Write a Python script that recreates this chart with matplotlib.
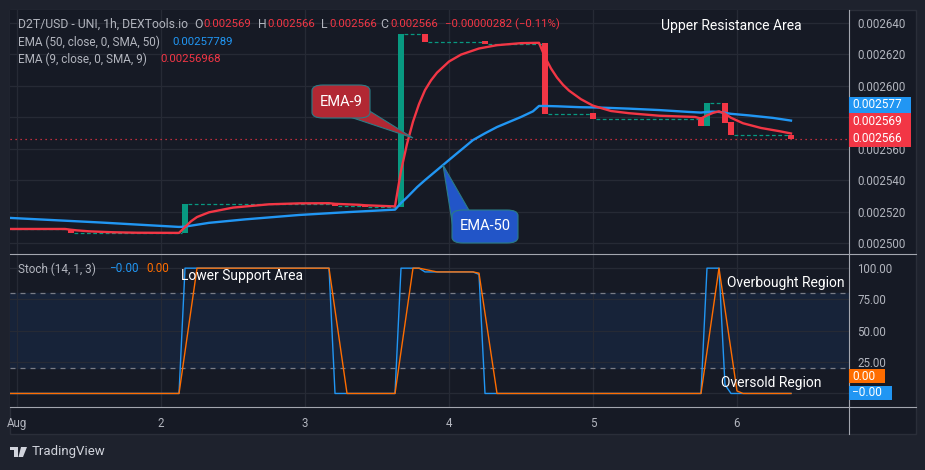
import matplotlib
matplotlib.use("Agg")
import matplotlib.pyplot as plt
from matplotlib.patches import Rectangle, FancyBboxPatch, Polygon
from matplotlib.lines import Line2D

W, H = 925, 470

OUTER = "#1e222d"
PANE = "#161a25"
FRAME = "#2a2e39"
GRID = "#262a35"
SEP = "#a3a6af"
TXT = "#b2b5be"
RED = "#f23645"
GREEN = "#089981"
BLUE = "#2196f3"
ORANGE = "#ff6d00"
BAND = "#172339"

# hours since Aug 1 00:00 -- only the candles that actually moved
candle_hours = [9, 28, 53, 58, 64, 68, 78, 88, 96, 114, 115, 118, 119, 129]
candle_open = [0.0025089, 0.0025064, 0.0025251, 0.0025242, 0.0025227, 0.0026330, 0.0026284,
               0.0026271, 0.0025827, 0.0025802, 0.0025744, 0.0025891, 0.0025770, 0.0025690]
candle_close = [0.0025064, 0.0025251, 0.0025236, 0.0025227, 0.0026330, 0.0026281, 0.0026266,
                0.0025821, 0.0025789, 0.0025744, 0.0025891, 0.0025764, 0.0025687, 0.0025660]
first_price = 0.0025089
last_price = 0.002566

ema9_hours = [-1.5, 8, 9, 10, 12, 16, 20, 27, 28, 29, 30, 32, 36, 42, 47, 52, 53, 57, 58, 62, 63,
              64, 65, 66, 67, 68, 69, 70, 72, 74, 77, 80, 84, 87, 88, 89, 90, 91, 92, 94, 96,
              99, 102, 107, 113, 114, 115, 116, 117, 118, 119, 121, 124, 127, 129]
ema9_vals = [0.0025089, 0.0025089, 0.0025084, 0.0025080, 0.0025074, 0.0025068, 0.0025065,
             0.0025064, 0.0025101, 0.0025138, 0.0025165, 0.0025195, 0.0025225, 0.0025246,
             0.0025252, 0.0025253, 0.0025249, 0.0025243, 0.0025240, 0.0025234, 0.0025233,
             0.0025460, 0.0025630, 0.0025772, 0.0025884, 0.0025973, 0.0026035, 0.0026084,
             0.0026155, 0.0026199, 0.0026238, 0.0026259, 0.0026272, 0.0026274, 0.0026183,
             0.0026111, 0.0026053, 0.0026007, 0.0025970, 0.0025915, 0.0025874, 0.0025840,
             0.0025826, 0.0025810, 0.0025802, 0.0025792, 0.0025812, 0.0025828, 0.0025838,
             0.0025823, 0.0025797, 0.0025762, 0.0025732, 0.0025712, 0.0025697]

ema50_hours = [-1.5, 14, 27, 28, 32, 38, 47, 55, 63, 64, 65, 66.7, 68, 71, 73, 76, 78, 80, 82,
               84, 86, 87, 88, 90, 94, 97, 102, 107, 112, 114, 115, 116, 117, 118, 119, 122,
               126, 129]
ema50_vals = [0.0025160, 0.0025130, 0.0025102, 0.0025104, 0.0025128, 0.0025150, 0.0025178,
              0.0025196, 0.0025212, 0.0025254, 0.0025290, 0.0025356, 0.0025400, 0.0025496,
              0.0025560, 0.0025655, 0.0025698, 0.0025738, 0.0025770, 0.0025802, 0.0025838,
              0.0025872, 0.0025872, 0.0025870, 0.0025864, 0.0025862, 0.0025855, 0.0025846,
              0.0025834, 0.0025830, 0.0025834, 0.0025836, 0.0025834, 0.0025828, 0.0025822,
              0.0025812, 0.0025796, 0.0025779]

stoch_k_hours = [-1.5, 27, 28, 52, 53, 63, 64, 67, 68, 76, 77, 78, 114, 115, 117, 118, 119, 129]
stoch_k = [0, 0, 100, 100, 0, 0, 100, 100, 97, 97, 95, 0, 0, 100, 100, 7, 0, 0]
stoch_d_hours = [-1.5, 27, 30, 52, 55, 63, 66, 67, 70, 76, 77, 80, 114, 117, 120, 121, 129]
stoch_d = [0, 0, 100, 100, 0, 0, 100, 100, 97, 97, 96, 0, 0, 100, 2, 0, 0]

price_ticks = [0.00250, 0.00252, 0.00254, 0.00256, 0.00258, 0.00260, 0.00262, 0.00264]
price_tick_labels = ["0.002500", "0.002520", "0.002540", "0.002560", "", "0.002600", "0.002620", "0.002640"]
stoch_ticks = [0, 25, 50, 75, 100]
stoch_tick_labels = ["", "25.00", "50.00", "75.00", "100.00"]
day_ticks = [0, 24, 48, 72, 96, 120]
day_labels = ["Aug", "2", "3", "4", "5", "6"]


def fx(x):
    return x / W


def fy(y):
    return 1 - y / H


def ftext(x, y, s, **kw):
    kw.setdefault("va", "center")
    kw.setdefault("fontsize", 8.5)
    kw.setdefault("color", TXT)
    fig.text(fx(x), fy(y), s, **kw)


def label_box(x0, y0, x1, y1, s, color):
    fig.patches.append(Rectangle((fx(x0), fy(y1)), (x1 - x0) / W, (y1 - y0) / H,
                                 transform=fig.transFigure, facecolor=color, edgecolor="none", zorder=5))
    ftext(x0 + 3, (y0 + y1) / 2, s, color="white", fontsize=8.6, zorder=6)


def callout(box, tail, s, color):
    x0, y0, x1, y1 = box
    fig.patches.append(Polygon([(fx(a), fy(b)) for a, b in tail], closed=True,
                               transform=fig.transFigure, facecolor=color,
                               edgecolor="#2b7c86", lw=0.8, zorder=5))
    fig.patches.append(FancyBboxPatch((fx(x0), fy(y1)), (x1 - x0) / W, (y1 - y0) / H,
                                      boxstyle="round,pad=0,rounding_size=0.012",
                                      transform=fig.transFigure, facecolor=color,
                                      edgecolor="#2b7c86", lw=0.8, zorder=6))
    ftext((x0 + x1) / 2, (y0 + y1) / 2, s, color="white", fontsize=10.5, ha="center", zorder=7)


plt.rcParams["font.family"] = ["Roboto", "DejaVu Sans"]

fig = plt.figure(figsize=(W / 100, H / 100), dpi=100, facecolor=OUTER)
fig.patches.append(Rectangle((fx(10), fy(434)), 906 / W, 424 / H, transform=fig.transFigure,
                             facecolor=PANE, edgecolor=FRAME, lw=1, zorder=-5))

ax = fig.add_axes([fx(10), fy(253), 839 / W, 243 / H])
ax2 = fig.add_axes([fx(10), fy(407), 839 / W, 154 / H], sharex=ax)

for a in (ax, ax2):
    a.set_facecolor(PANE)
    for sp in a.spines.values():
        sp.set_visible(False)
    a.yaxis.tick_right()
    a.tick_params(length=0, labelcolor=TXT, labelsize=8.3, pad=6)
    a.grid(color=GRID, lw=0.9)
    a.set_axisbelow(True)

# price pane
colors = [GREEN if c >= o else RED for o, c in zip(candle_open, candle_close)]
ax.bar(candle_hours, [c - o for o, c in zip(candle_open, candle_close)], bottom=candle_open,
       width=0.9, color=colors, zorder=3)

prev_price, prev_end = first_price, -2
for h, c in zip(candle_hours, candle_close):
    if h - 0.45 > prev_end + 0.05:
        ax.hlines(prev_price, prev_end, h - 0.45, colors=GREEN, linestyles=(0, (3, 2)), lw=0.9, zorder=3)
    prev_price, prev_end = c, h + 0.45

ax.axhline(last_price, color=RED, lw=0.9, ls=(0, (1, 3)), zorder=2)
ax.plot(ema50_hours, ema50_vals, color=BLUE, lw=1.7, zorder=4)
ax.plot(ema9_hours, ema9_vals, color=RED, lw=1.7, zorder=4)

ax.set_xlim(-1.17, 138.67)
ax.set_ylim(0.0024936, 0.0026483)
ax.set_yticks(price_ticks)
ax.set_yticklabels(price_tick_labels)
ax.set_xticks(day_ticks)
ax.tick_params(labelbottom=False)

# stochastic pane
ax2.axhspan(20, 80, color=BAND, zorder=0)
ax2.axhline(80, color="#787b86", lw=0.9, ls=(0, (4, 4)), zorder=1)
ax2.axhline(20, color="#787b86", lw=0.9, ls=(0, (4, 4)), zorder=1)
ax2.plot(stoch_k_hours, stoch_k, color=BLUE, lw=1.0, zorder=3)
ax2.plot(stoch_d_hours, stoch_d, color=ORANGE, lw=1.0, zorder=3)
ax2.set_ylim(-10.8, 112.1)
ax2.set_yticks(stoch_ticks)
ax2.set_yticklabels(stoch_tick_labels)
ax2.set_xticks(day_ticks)
ax2.set_xticklabels(day_labels)
ax2.tick_params(axis="x", pad=7)

# separators
for xs, ys in (([849, 849], [10, 434]), ([10, 916], [253.5, 253.5]), ([10, 916], [407, 407])):
    fig.add_artist(Line2D([fx(v) for v in xs], [fy(v) for v in ys], color=SEP, lw=0.8))

# legend header
ftext(18, 24, "D2T/USD - UNI, 1h, DEXTools.io", fontsize=8.8)
for x, s in ((194, "O"), (258, "H"), (321, "L"), (380, "C")):
    ftext(x, 24, s, fontsize=8.8)
for x, s in ((203, "0.002569"), (267, "0.002566"), (329, "0.002566"), (390, "0.002566"),
             (445, "\u22120.00000282 (\u22120.11%)")):
    ftext(x, 24, s, color=RED, fontsize=8.2)
ftext(18, 42, "EMA (50, close, 0, SMA, 50)")
ftext(172, 42, "0.00257789", color=BLUE, fontsize=8.2)
ftext(18, 59, "EMA (9, close, 0, SMA, 9)")
ftext(160, 59, "0.00256968", color=RED, fontsize=8.2)
ftext(18, 269, "Stoch (14, 1, 3)")
ftext(109, 269, "\u22120.00", color=BLUE)
ftext(146, 269, "0.00", color=ORANGE)

# annotations
ftext(661, 26, "Upper Resistance Area", color="white", fontsize=10)
ftext(181, 276, "Lower Support Area", color="white", fontsize=10)
ftext(727, 283, "Overbought Region", color="white", fontsize=10)
ftext(721, 383, "Oversold Region", color="white", fontsize=10)

callout((312, 85, 370, 118), [(350, 117), (368, 110), (413, 138)], "EMA-9", "#b22833")
callout((452, 210, 518, 243), [(443, 165), (453, 228), (470, 212)], "EMA-50", "#2255c8")

# price / indicator value tags
label_box(849, 97, 911, 113, "0.002577", BLUE)
label_box(849, 113, 911, 130, "0.002569", RED)
label_box(849, 130, 911, 147, "0.002566", RED)
label_box(849, 369, 885, 383, "0.00", ORANGE)
label_box(849, 386, 892, 400, "\u22120.00", BLUE)

# TradingView mark
fig.patches.append(Rectangle((fx(10), fy(450)), 8 / W, 3 / H, transform=fig.transFigure,
                             facecolor="#d1d4dc", zorder=5))
fig.patches.append(Rectangle((fx(14), fy(457)), 4 / W, 9 / H, transform=fig.transFigure,
                             facecolor="#d1d4dc", zorder=5))
fig.patches.append(Polygon([(fx(a), fy(b)) for a, b in ((21, 447), (27, 447), (23, 457), (18.5, 457))],
                           closed=True, transform=fig.transFigure, facecolor="#d1d4dc", zorder=5))
ftext(32, 452, "TradingView", color="#d1d4dc", fontsize=9.5)

fig.savefig("out.png", dpi=100, facecolor=OUTER)
